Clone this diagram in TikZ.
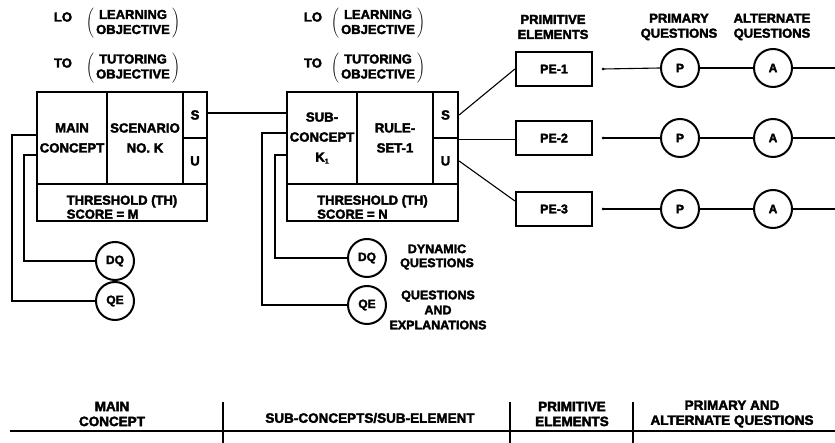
\documentclass[tikz,border=0pt]{standalone}
\usepackage{fontspec}
\setmainfont{Liberation Sans Bold}[FakeBold=2.6]
\begin{document}
\begin{tikzpicture}[x=1pt,y=-1pt,
  lbl/.style={inner sep=0pt, align=center, font=\fontsize{13}{15}\selectfont},
  cell/.style={draw, line width=2.2pt, inner sep=0pt, align=center, font=\fontsize{13.2}{20}\selectfont},
  wire/.style={line width=1.1pt},
  bub/.style={draw, circle, line width=2pt, minimum size=38pt, inner sep=0pt, font=\fontsize{12}{14}\selectfont},
  pebox/.style={draw, line width=2.2pt, minimum width=76pt, minimum height=34pt, inner sep=0pt, font=\fontsize{12.5}{14}\selectfont},
  rule/.style={line width=1.3pt},
]
\useasboundingbox[fill=white] (0,0) rectangle (835,443);

% ---------- objectives above the two concept blocks ----------
\node[lbl] (lo1) at (63,17) {LO};
\node[lbl] (lo1t) at (133,23.5) {$\left(\begin{tabular}{@{\,}c@{\,}}LEARNING\\OBJECTIVE\end{tabular}\right)$};
\node[lbl] (to1) at (63,63) {TO};
\node[lbl] (to1t) at (133,68) {$\left(\begin{tabular}{@{\,}c@{\,}}TUTORING\\OBJECTIVE\end{tabular}\right)$};

\node[lbl] (lo2) at (313,17) {LO};
\node[lbl] (lo2t) at (378,23.5) {$\left(\begin{tabular}{@{\,}c@{\,}}LEARNING\\OBJECTIVE\end{tabular}\right)$};
\node[lbl] (to2) at (313,63) {TO};
\node[lbl] (to2t) at (378,68) {$\left(\begin{tabular}{@{\,}c@{\,}}TUTORING\\OBJECTIVE\end{tabular}\right)$};

% ---------- main concept block ----------
\node[cell, minimum width=70pt, minimum height=92pt] (mc1) at (72,138) {MAIN\\CONCEPT};
\node[cell, minimum width=76pt, minimum height=92pt] (sc1) at (145,138) {SCENARIO\\NO. K};
\node[cell, minimum width=24pt, minimum height=46pt] (s1) at (195,115) {S};
\node[cell, minimum width=24pt, minimum height=46pt] (u1) at (195,161) {U};
\node[cell, minimum width=170pt, minimum height=37pt] (th1) at (122,202.5) {};
\node[lbl, align=left, font=\fontsize{13}{14}\selectfont] (th1t) at (122,207) {THRESHOLD (TH)\\SCORE = M};

% ---------- sub-concept block ----------
\node[cell, minimum width=70pt, minimum height=92pt] (sc2) at (322,138) {SUB-\\CONCEPT\\K\raisebox{-2pt}{\fontsize{7}{7}\selectfont 1}};
\node[cell, minimum width=76pt, minimum height=92pt] (rs2) at (395,138) {RULE-\\SET-1};
\node[cell, minimum width=25pt, minimum height=46pt] (s2) at (445.5,115) {S};
\node[cell, minimum width=25pt, minimum height=46pt] (u2) at (445.5,161) {U};
\node[cell, minimum width=171pt, minimum height=37pt] (th2) at (372.5,202.5) {};
\node[lbl, align=left, font=\fontsize{13}{14}\selectfont] (th2t) at (372.5,207) {THRESHOLD (TH)\\SCORE = N};

% ---------- question bubbles of the two blocks ----------
\node[bub] (dq1) at (115,261) {DQ};
\node[bub] (qe1) at (115,301) {QE};
\node[bub] (dq2) at (367,258) {DQ};
\node[bub] (qe2) at (367,305) {QE};
\node[lbl, font=\fontsize{12.5}{14}\selectfont] (dqt) at (437,257) {DYNAMIC\\QUESTIONS};
\node[lbl, font=\fontsize{12.5}{15}\selectfont] (qet) at (438,310) {QUESTIONS\\AND\\EXPLANATIONS};

\coordinate (b1o) at (12,135);
\coordinate (b1i) at (24,155);
\coordinate (b2o) at (262,133);
\coordinate (b2i) at (275,155);
\draw[wire] (qe1.west) -| (b1o) -- (b1o -| mc1.west);
\draw[wire] (dq1.west) -| (b1i) -- (b1i -| mc1.west);
\draw[wire] (qe2.west) -| (b2o) -- (b2o -| sc2.west);
\draw[wire] (dq2.west) -| (b2i) -- (b2i -| sc2.west);

% link from the main block to the sub-concept block
\draw[wire] ([yshift=2pt]s1.east) -- ([yshift=2pt]s1.east -| sc2.west);

% ---------- primitive elements and their questions ----------
\node[lbl] (peh) at (553,27) {PRIMITIVE\\ELEMENTS};
\node[lbl] (ph) at (679,27) {PRIMARY\\QUESTIONS};
\node[lbl] (ah) at (772,27) {ALTERNATE\\QUESTIONS};

\node[pebox] (pe1) at (554,69) {PE-1};
\node[pebox] (pe2) at (554,138) {PE-2};
\node[pebox] (pe3) at (554,209) {PE-3};
\node[bub] (p1) at (680,68) {P};
\node[bub] (p2) at (680,138) {P};
\node[bub] (p3) at (680,209) {P};
\node[bub] (a1) at (773,68) {A};
\node[bub] (a2) at (773,138) {A};
\node[bub] (a3) at (773,209) {A};
\coordinate (rx) at (835,0);

\draw[wire] (s2.east) -- (pe1.west);
\draw[wire] (s2.south east) -- (s2.south east -| pe2.west);
\draw[wire] (u2.east) -- ([yshift=8pt]pe3.west);

\foreach \i in {1,2,3}{
  \fill ([xshift=10pt]pe\i.east) circle (1.4pt);
  \draw[wire] ([xshift=10pt]pe\i.east) -- (p\i.west);
  \draw[wire] (p\i.east) -- (a\i.west);
  \draw[wire] (a\i.east) -- (a\i.east -| rx);
}

% ---------- table heading ----------
\node[lbl, font=\fontsize{13.5}{15}\selectfont] (hmc) at (112,414) {MAIN\\CONCEPT};
\node[lbl, font=\fontsize{13.5}{15}\selectfont] (hsc) at (370,418) {SUB-CONCEPTS/SUB-ELEMENT};
\node[lbl, font=\fontsize{13.5}{15}\selectfont] (hpe) at (572,414) {PRIMITIVE\\ELEMENTS};
\node[lbl, font=\fontsize{13.5}{15}\selectfont] (hpa) at (732,414) {PRIMARY AND\\ALTERNATE QUESTIONS};
\coordinate (tl) at (10,431);
\coordinate (c1) at (223,402);
\coordinate (c2) at (510,402);
\coordinate (c3) at (633,402);
\coordinate (bot) at (0,443);
\draw[rule] (tl) -- (tl -| rx);
\draw[rule] (c1) -- (c1 |- bot);
\draw[rule] (c2) -- (c2 |- bot);
\draw[rule] (c3) -- (c3 |- bot);
\end{tikzpicture}
\end{document}
